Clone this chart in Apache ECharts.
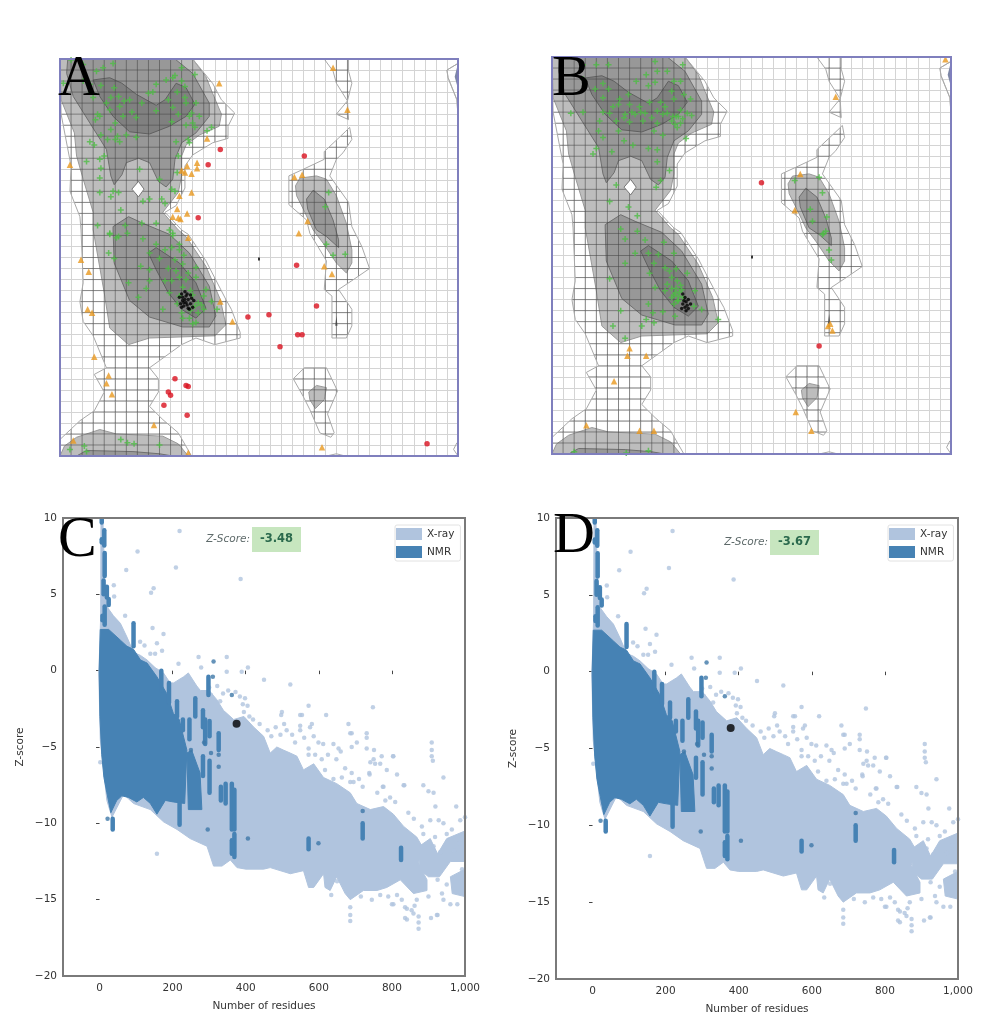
<!DOCTYPE html>
<html><head><meta charset="utf-8">
<style>html,body{margin:0;padding:0;background:#fff}#c{width:982px;height:1016px}</style>
<script src="https://cdn.jsdelivr.net/npm/echarts@6/dist/echarts.min.js"></script>
</head><body><div id="c"></div>
<script>
// ---------- Ramachandran contours (phi, psi in degrees) ----------
const allowedMain=[[-60,180],[-48,164],[-42,149],[-34,130],[-36,119],[-54,111],[-66,102],[-70,92],[-70,74],[-73,59],[-87,41],[-73,25],[-66,19],[-48,-8],[-35,-38],[-30,-61],[-40,-71],[-99,-73],[-118,-79],[-135,-64],[-140,-32],[-150,25],[-150,41],[-159,71],[-165,92],[-167,113],[-179,143],[-180,180]];
const allowedRight=[[33,65],[37,72],[52,74],[61,71],[70,56],[79,31],[84,7],[84,-5],[79,-14],[70,-5],[58,13],[49,25],[40,44],[34,56]];
const allowedSmall=[[45,-122],[52,-116],[61,-118],[59,-129],[51,-137],[46,-129]];
const allowedBottom=[[-180,-180],[-176,-171],[-165,-163],[-144,-156],[-129,-160],[-87,-162],[-73,-169],[-64,-180]];
const favouredUpper=[[-173,180],[-174,167],[-168,146],[-153,122],[-138,98],[-134,74],[-131,66],[-124,75],[-120,86],[-109,90],[-99,86],[-91,69],[-84,64],[-78,71],[-76,89],[-70,104],[-57,113],[-45,128],[-45,140],[-60,167],[-76,180]];
const favouredLower=[[-118,37],[-132,28],[-132,25],[-131,-5],[-117,-39],[-99,-54],[-69,-63],[-45,-63],[-39,-53],[-45,-26],[-63,4],[-81,21],[-105,31]];
const favouredRight=[[43,53],[49,61],[59,53],[67,34],[72,16],[72,9],[61,19],[52,25],[44,44]];
const favouredBottom=[[-165,-180],[-156,-175],[-114,-176],[-90,-178],[-78,-180]];
const coreUpper=[[-150,161],[-135,163],[-124,158],[-111,148],[-93,138],[-85,143],[-75,158],[-66,154],[-58,139],[-66,128],[-81,119],[-99,112],[-117,114],[-132,128],[-144,146]];
const coreLower=[[-100,4],[-93,9],[-72,-5],[-57,-23],[-48,-46],[-57,-55],[-70,-47],[-82,-32],[-93,-11]];
const diamondHole=[[-109,69],[-104,62],[-109,55],[-115,62]];
const outerMain=[[-60,180],[-51,169],[-42,158],[-34,143],[-22,131],[-28,119],[-28,108],[-42,104],[-60,93],[-67,83],[-67,63],[-75,47],[-85,41],[-70,25],[-64,21],[-48,-3],[-30,-38],[-25,-47],[-17,-68],[-17,-73],[-40,-79],[-57,-73],[-70,-79],[-99,-100],[-91,-110],[-91,-122],[-99,-135],[-87,-147],[-73,-159],[-61,-180],[-180,-180],[-180,-165],[-162,-148],[-149,-139],[-140,-122],[-149,-106],[-138,-100],[-150,-71],[-159,-58],[-162,-40],[-159,-23],[-161,25],[-162,37],[-171,60],[-170,83],[-179,130],[-180,180]];
const outerRightMid=[[82,118],[78,114],[59,96],[59,89],[40,80],[27,74],[27,48],[43,34],[46,22],[61,-3],[59,-29],[66,-35],[66,-73],[79,-73],[84,-62],[84,-47],[72,-29],[84,-21],[100,-10],[93,10],[84,28],[81,50],[64,74],[70,89],[76,95],[84,107]];
const outerStripA=[[59,180],[67,169],[70,158],[80,142],[84,158],[81,169],[81,180]];
const outerStripB=[[80,142],[70,130],[81,125]];
const outerSmall=[[31,-110],[41,-100],[61,-100],[71,-121],[62,-142],[68,-159],[65,-163],[55,-159],[46,-138],[40,-126]];
const outerCorner=[[180,176],[170,170],[171,163],[179,143],[180,128]];
const outerCornerLow=[[179,-168],[176,-174],[180,-180]];
const outerEdgeLow=[[61,-180],[70,-178],[78,-180]];
const cornerLens=[[180,176],[177,164],[180,153]];
const sliver=[[69,-62],[70,-53],[71,-62]];

// ---------- Ramachandran points, panel A ----------
const favouredA=[[-170,179],[-159,175],[-132,176],[-177,158],[-141,172],[-147,169],[-159,160],[-153,157],[-143,156],[-150,145],[-131,154],[-134,145],[-127,146],[-117,143],[-122,142],[-126,137],[-135,134],[-146,130],[-144,128],[-123,128],[-111,127],[-106,140],[-100,149],[-93,157],[-84,161],[-78,163],[-70,172],[-58,166],[-67,155],[-67,145],[-82,143],[-93,133],[-78,136],[-73,130],[-66,140],[-57,140],[-61,131],[-54,128],[-79,123],[-66,120],[-58,118],[-43,118],[-47,115],[-64,107],[-63,104],[-75,105],[-73,92],[-143,111],[-134,116],[-120,111],[-111,109],[-130,107],[-137,107],[-153,105],[-149,102],[-126,105],[-144,89],[-156,87],[-140,92],[-143,81],[-108,80],[-74,77],[-144,72],[-90,71],[-144,59],[-132,60],[-127,59],[-134,55],[-79,62],[-76,60],[-105,51],[-99,53],[-88,53],[-85,49],[-125,43],[-146,29],[-93,31],[-121,29],[-106,31],[-81,25],[-78,22],[-135,21],[-127,19],[63,59],[60,46],[-135,22],[-129,18],[-119,22],[-105,17],[-93,12],[-78,20],[-136,4],[-131,-1],[-99,4],[-85,7],[-79,9],[-72,7],[-76,-2],[-69,-6],[-64,-14],[-57,-9],[-107,-8],[-99,-11],[-118,-23],[-99,-21],[-85,-21],[-79,-21],[-72,-18],[-57,-18],[-102,-28],[-81,-32],[-69,-27],[-48,-29],[-109,-36],[-87,-47],[-50,-35],[-43,-40],[-38,-47],[-70,-50],[-63,-55],[-57,-59],[-50,-47],[-55,-41],[61,12],[67,2],[78,3],[-125,-165],[-119,-168],[-113,-169],[-90,-170],[-171,-174],[-158,-171],[-156,-176],[-60,-34],[-58,-44],[-72,-35],[-74,-42],[-55,-50],[-62,-48],[-52,-43],[-69,-55],[-60,-60],[-152,150],[-138,140],[-130,122],[-96,150],[-74,150],[-70,160],[-63,128],[-60,122],[-115,132],[-148,125],[-128,110],[-76,165],[-72,12],[-68,2],[-75,-12],[-66,-20],[-62,-30],[-82,-10],[-90,-1]];
const generousA=[[-36,158],[67,172],[80,134],[-171,84],[-47,108],[-56,86],[-65,83],[-56,81],[-70,79],[-67,77],[-61,76],[-72,56],[-61,59],[-74,44],[-65,40],[-78,37],[-73,36],[-71,35],[-64,18],[32,73],[39,75],[44,33],[36,22],[-161,-2],[-154,-13],[-155,-47],[-151,-50],[59,-8],[66,-15],[-35,-40],[-24,-58],[-149,-90],[-136,-107],[-138,-114],[-133,-124],[-95,-152],[-168,-166],[-64,-177],[57,-172]];
const outlierA=[[-35,98],[-46,84],[-55,36],[41,92],[34,-7],[52,-44],[-10,-54],[9,-52],[35,-70],[39,-70],[19,-81],[-76,-110],[-66,-116],[-64,-117],[-82,-122],[-80,-125],[-86,-134],[-65,-143],[152,-169]];
const glycineA=[[-72,-36],[-70,-33],[-69,-39],[-71,-42],[-68,-44],[-66,-35],[-66,-41],[-64,-46],[-67,-31],[-64,-38],[-62,-42],[-62,-34],[-60,-45],[-59,-39],[-69,-36],[-67,-38],[-65,-43],[-70,-45],[-63,-47],[-68,-41],[-65,-33],[-61,-37]];

// ---------- Ramachandran points, panel B ----------
const favouredB=[[-152,173],[-140,173],[-129,173],[-87,176],[-62,173],[-95,164],[-85,167],[-76,167],[-152,160],[-104,158],[-134,156],[-93,154],[-87,157],[-70,158],[-64,158],[-141,151],[-129,151],[-111,146],[-72,149],[-61,146],[-134,143],[-119,142],[-101,135],[-120,137],[-110,137],[-92,139],[-82,139],[-70,142],[-55,142],[-163,129],[-152,130],[-134,130],[-128,129],[-114,128],[-105,128],[-96,129],[-85,131],[-76,129],[-64,132],[-58,129],[-54,127],[-137,122],[-122,122],[-110,121],[-98,122],[-85,120],[-69,119],[-64,120],[-67,116],[-138,113],[-120,113],[-88,113],[-134,107],[-80,109],[-115,104],[-59,106],[-140,97],[-107,100],[-93,97],[-85,96],[-143,92],[-126,94],[-85,85],[-74,77],[-82,68],[-86,62],[-122,64],[-128,49],[-111,44],[-103,36],[-118,24],[-103,22],[39,68],[61,71],[64,57],[68,35],[53,42],[55,31],[64,19],[67,22],[70,5],[72,-4],[65,20],[-114,15],[-96,14],[-79,12],[-114,-7],[-105,2],[-93,2],[-84,1],[-78,-11],[-88,-7],[-70,2],[-72,-20],[-92,-16],[-128,-21],[-87,-29],[-76,-26],[-67,-23],[-58,-16],[-51,-32],[-93,-44],[-118,-50],[-89,-52],[-80,-51],[-69,-55],[-45,-49],[-30,-58],[-95,-58],[-88,-61],[-99,-64],[-125,-64],[-114,-75],[-69,-34],[-66,-37],[-72,-38],[-67,-41],[-63,-31],[-70,-44],[-52,-46],[-160,-178],[-113,-179],[-93,-177],[-68,-30],[-65,-33],[-70,-36],[-66,-41],[-62,-38],[-72,-30],[-64,-27],[-78,-32],[-74,-14],[-68,-12],[-71,126],[-66,126],[-62,124],[-72,122],[-68,126],[-80,128],[-78,135],[-90,125],[-100,130],[-108,130],[-115,125],[-125,135]];
const generousB=[[175,178],[76,144],[44,74],[39,41],[71,-62],[69,-64],[73,-68],[-110,-84],[-112,-91],[-95,-91],[-124,-114],[40,-142],[54,-159],[-149,-154],[-101,-159],[-88,-159]];
const outlierB=[[9,66],[61,-82]];
const glycineB=[[-62,-35],[-60,-38],[-59,-42],[-62,-44],[-58,-45],[-60,-47],[-57,-40],[-59,-50],[-57,-48],[-61,-41],[-63,-48],[-55,-44]];

// ---------- Z-score reference clouds (residues, z) ----------
const xrayMain=[[3,3.5],[4,10],[9,10],[14,6],[20,4.2],[38,3.6],[57,3.1],[75,2.2],[93,1.2],[112,1],[130,.7],[152,.2],[175,-.15],[193,-.8],[203,-.8],[230,-.4],[243,-.15],[266,-1],[276,-1.3],[300,-1.3],[321,-1.9],[339,-2.6],[367,-3.2],[395,-3],[422,-3.7],[449,-4.3],[467,-5.4],[485,-5],[503,-5.2],[522,-5.4],[540,-5.6],[558,-6.5],[586,-6.1],[613,-7],[649,-7.4],[686,-8],[704,-8.7],[741,-9.1],[777,-8.9],[804,-9.4],[832,-10.2],[868,-10.9],[885,-11.6],[872,-12.6],[896,-13.7],[896,-14.4],[859,-14.6],[823,-13.7],[786,-14.2],[759,-14.4],[722,-14.4],[686,-15],[672,-14.6],[649,-13.5],[631,-14.4],[617,-14.2],[613,-13.3],[586,-14.2],[572,-14.2],[558,-13.1],[522,-13.3],[467,-12.9],[449,-13],[400,-13],[376,-12.9],[358,-12.4],[335,-12.8],[312,-12.8],[294,-11.5],[248,-11],[212,-10.4],[175,-9.9],[139,-9.1],[93,-8.7],[66,-8.1],[34,-9.6],[20,-8.5],[2,-4.5],[-2,-.2],[1,2]];
const xrayRightA=[[875,-11.5],[905,-11],[925,-12],[950,-11],[1000,-10.5],[1000,-12.5],[960,-12.5],[930,-13.5],[900,-13.5],[875,-13]];
const xrayRightB=[[960,-13.5],[1000,-13],[1000,-14.8],[965,-14.6]];
const nmrMain=[[2,2.7],[25,2.7],[57,2],[75,1.6],[93,1.4],[112,.7],[130,.5],[157,-.4],[184,-1.5],[202,-2.8],[218,-3.2],[239,-5.2],[233,-8.7],[202,-8.6],[180,-8.5],[157,-9.4],[139,-8.7],[120,-8.3],[102,-8.6],[79,-8.3],[61,-8.2],[47,-8.5],[31,-9.3],[20,-8],[12,-7],[6,-5.5],[1,-3],[-1,0]];
const nmrBlock=[[239,-5.4],[252,-5.2],[275,-6.7],[280,-9.1],[243,-9.1]];
// x, top z, bottom z of each vertical NMR run
const nmrColumns=[[6,9.9,9.7],[13,9.2,8.2],[6,8.6,8.4],[14,7.7,6.2],[11,5.9,5],[20,5.5,4.8],[25,4.7,4.3],[14,4.2,3],[8,3.6,3.3],[93,3.1,1.6],[169,0,-1.3],[190,-.8,-2.1],[212,-2,-3],[262,-1.8,-3],[298,-.4,-1.6],[283,-2.6,-3.7],[289,-3.2,-4.8],[301,-3.3,-4.3],[246,-3.2,-4.5],[228,-3.2,-3.9],[326,-4.1,-5.2],[283,-5.6,-6.9],[301,-5.9,-8],[332,-7.6,-8.5],[345,-7.4,-8.7],[362,-7.4,-10.4],[369,-7.8,-10.4],[369,-10.7,-12.2],[362,-11.1,-12],[219,-8.7,-10.1],[36,-9.7,-10.4],[572,-11,-11.7],[720,-10,-11],[825,-11.6,-12.4]];
const nmrDots=[[22,-9.7],[312,.6],[310,-.4],[362,-1.6],[296,-10.4],[406,-11],[599,-11.3],[720,-9.2],[305,-5.4],[326,-5.5],[326,-6.3],[250,-5.2],[286,-4.7]];
const xrayDots=[[219,9.15],[104,7.8],[73,6.6],[209,6.75],[386,6],[39,5.6],[40,4.85],[148,5.4],[141,5.1],[70,3.6],[145,2.8],[175,2.4],[111,1.9],[123,1.65],[157,1.8],[152,1.1],[171,1.3],[139,1.1],[271,.9],[348,.9],[216,.45],[278,.2],[348,-.07],[389,-.07],[406,.2],[450,-.6],[522,-.9],[572,-2.3],[620,-2.9],[748,-2.4],[497,-2.9],[499,-2.7],[681,-3.5],[549,-2.9],[554,-2.9],[586,-4.3],[549,-3.6],[549,-3.9],[581,-3.5],[576,-3.7],[731,-4.1],[731,-4.4],[690,-4.1],[909,-4.7],[909,-5.2],[909,-5.6],[912,-5.9],[941,-7],[772,-5.6],[804,-5.6],[750,-5.8],[738,-6.7],[786,-6.5],[814,-6.8],[834,-7.5],[775,-7.6],[886,-7.5],[900,-7.9],[914,-8],[809,-8.6],[919,-8.9],[976,-8.9],[690,-6.7],[686,-7.3],[157,-12],[2,-6],[745,-15],[804,-15.3],[686,-15.5],[686,-16],[686,-16.4],[841,-16.3],[859,-15.9],[873,-16.9],[873,-16.5],[854,-15.7],[836,-15.5],[814,-14.7],[827,-15],[907,-16.2],[925,-16],[960,-15.3],[979,-15.3],[599,-4.7],[572,-5.1],[572,-5.5],[590,-5.5],[608,-5.8],[617,-6.5],[640,-4.8],[654,-5.1],[660,-5.3],[686,-4.1],[704,-4.7],[690,-5],[731,-5.1],[751,-5.2],[741,-6],[754,-6.1],[768,-6.1],[803,-5.6],[695,-7.3],[739,-6.8],[832,-7.5],[777,-7.6],[782,-8.5],[640,-7.1],[663,-7],[800,-15.3],[836,-16.2],[841,-15.6],[868,-15],[873,-16.1],[923,-16],[937,-14.6],[941,-15],[905,-9.8],[928,-9.8],[941,-10],[987,-9.8],[882,-10.2],[886,-10.7],[918,-10.9],[950,-10.7],[964,-10.4],[914,-11.5],[932,-11.9],[300,-1.1],[322,-1],[338,-1.5],[330,-2],[305,-1.6],[352,-1.3],[372,-1.4],[384,-1.7],[398,-1.8],[405,-2.3],[395,-2.7],[410,-3],[392,-2.2],[420,-3.2],[438,-3.5],[460,-3.9],[470,-4.3],[482,-3.7],[505,-3.5],[512,-3.9],[495,-4.2],[527,-4.2],[535,-4.7],[560,-4.4],[612,-4.8],[625,-5.5],[648,-5.8],[672,-6.4],[710,-7.1],[720,-7.6],[760,-8],[795,-8.3],[845,-9.3],[860,-9.7],[970,-11.8],[985,-11.3],[1000,-9.6],[992,-13],[950,-14],[925,-13.7],[900,-14.8],[862,-15.4],[790,-14.8],[768,-14.7],[715,-14.8],[650,-13.8],[634,-14.7]];

// ---------- panel values and tick labels ----------
const zScoreC=-3.48, zScoreD=-3.67;
const proteinC=[[375,-3.48]], proteinD=[[378,-3.67]];
const zTicks=[-20,-15,-10,-5,0,5,10];
const residueTicks=[0,200,400,600,800,1000];
const panelLabels=['A','B','C','D'];
const legendNames=['X-ray','NMR'];

// ---------- helpers ----------
const allFills=[
 {polys:[outerCorner.concat([[180,176]])],fill:'rgba(0,0,0,0)',stroke:'#b5b5b5',w:1,z:3},
 {polys:[allowedMain,allowedRight,allowedSmall,allowedBottom],fill:'#bdbdbd',stroke:'#9a9a9a',w:1,z:2},
 {polys:[favouredUpper,favouredLower,favouredRight,favouredBottom],fill:'#989898',stroke:'#6f6f6f',w:1,z:2.1},
 {polys:[coreUpper,coreLower],fill:'#808080',stroke:'#606060',w:1,z:2.2},
 {polys:[cornerLens],fill:'#7d86a6',stroke:'#7d86a6',w:0,z:2.2},
 {polys:[sliver],fill:'#555',stroke:'#555',w:0,z:2.3},
 {polys:[diamondHole],fill:'#fff',stroke:'#777',w:1,z:3.3},
];
const outerClosed=[outerMain,outerRightMid,outerStripA,outerStripB,outerSmall];
const outerOpen=[outerCornerLow,outerEdgeLow,outerCorner];

function polySeries(g,name,polys,fill,stroke,w,z,closed){
 return {type:'custom',name,coordinateSystem:'cartesian2d',xAxisIndex:g,yAxisIndex:g,z,silent:true,animation:false,clip:true,
  itemStyle:{color:fill},
  data:polys.map((p,i)=>[p[0][0],p[0][1],i]),
  renderItem(params,api){
   const pts=polys[params.dataIndex].map(p=>api.coord(p));
   return {type:closed===false?'polyline':'polygon',shape:{points:pts},style:{fill:closed===false?null:fill,stroke:stroke,lineWidth:w}};
  }};
}
function gridLineSeries(g,polys){
 return {type:'custom',coordinateSystem:'cartesian2d',xAxisIndex:g,yAxisIndex:g,z:3,silent:true,animation:false,clip:true,
  data:polys.map((p,i)=>[p[0][0],p[0][1],i]),
  renderItem(params,api){
   const pts=polys[params.dataIndex].map(p=>api.coord(p));
   const ch=[];
   for(let d=-170;d<180;d+=10){
    const a=api.coord([d,-180]),b=api.coord([d,180]);
    ch.push({type:'line',shape:{x1:a[0],y1:a[1],x2:b[0],y2:b[1]},style:{stroke:'rgba(70,70,70,.55)',lineWidth:1}});
    const c=api.coord([-180,d]),e=api.coord([180,d]);
    ch.push({type:'line',shape:{x1:c[0],y1:c[1],x2:e[0],y2:e[1]},style:{stroke:'rgba(70,70,70,.55)',lineWidth:1}});
   }
   return {type:'group',children:ch,clipPath:{type:'polygon',shape:{points:pts}}};
  }};
}
function frameSeries(g,corners,color,w){
 return {type:'custom',coordinateSystem:'cartesian2d',xAxisIndex:g,yAxisIndex:g,z:6,silent:true,animation:false,clip:false,
  data:[corners],
  renderItem(params,api){
   const a=api.coord([api.value(0),api.value(1)]),b=api.coord([api.value(2),api.value(3)]);
   return {type:'rect',shape:{x:a[0],y:b[1],width:b[0]-a[0],height:a[1]-b[1]},style:{fill:null,stroke:color,lineWidth:w}};
  }};
}
function pts(g,data,symbol,size,color,z){
 return {type:'scatter',xAxisIndex:g,yAxisIndex:g,data,symbol,symbolSize:size,z,silent:true,animation:false,clip:true,itemStyle:{color}};
}
const plus='path://M3 0h2v3h3v2h-3v3h-2v-3h-3v-2h3z';
const triangle='triangle', circle='circle';

function ramaPanel(g,fav,gen,out,gly){
 const s=[];
 allFills.forEach(f=>s.push(polySeries(g,'',f.polys,f.fill,f.stroke,f.w,f.z)));
 s.push(gridLineSeries(g,outerClosed));
 s.push(polySeries(g,'',outerClosed,'rgba(0,0,0,0)','#a9a9a9',1,3.5));
 s.push(polySeries(g,'',outerOpen,'none','#a9a9a9',1,3.5,false));
 s.push(pts(g,fav,plus,6,'#4dbd45',4));
 s.push(pts(g,gly,circle,3.5,'#000',4.5));
 s.push(pts(g,gen,triangle,6.5,'#e8981f',4.6));
 s.push(pts(g,out,circle,5.5,'#d9121f',4.7));
 s.push(frameSeries(g,[-180,-180,180,180],'#7f7fbd',2));
 return s;
}
function zPanel(g,prot){
 const s=[];
 s.push(polySeries(g,'X-ray',[xrayMain,xrayRightA,xrayRightB],'#b0c4de','#b0c4de',1,2));
 s.push(pts(g,xrayDots,circle,4.5,'#b0c4de',2.1));
 s.push(polySeries(g,'NMR',[nmrMain,nmrBlock],'#4682b4','#4682b4',1,3));
 s.push({type:'custom',name:'NMR',coordinateSystem:'cartesian2d',xAxisIndex:g,yAxisIndex:g,z:3,silent:true,animation:false,clip:true,
  itemStyle:{color:'#4682b4'},data:nmrColumns,encode:{x:0,y:[1,2]},
  renderItem(params,api){
   const a=api.coord([api.value(0),api.value(1)]),b=api.coord([api.value(0),api.value(2)]);
   return {type:'line',shape:{x1:a[0],y1:a[1],x2:b[0],y2:b[1]},style:{stroke:'#4682b4',lineWidth:4.5,lineCap:'round'}};
  }});
 s.push(pts(g,nmrDots,circle,4.5,'#3f78a8',3.2));
 s.push(pts(g,prot,circle,8,'#000',5));
 s.push(frameSeries(g,[-100,-20,1000,10],'#7a7a7a',2));
 return s;
}
const grids=[{left:60,top:59,width:398,height:397},{left:552,top:57,width:399,height:397},{left:63,top:518,width:402,height:458},{left:556,top:518,width:402,height:461}];
const fontAxis='"DejaVu Sans",sans-serif';
function ramaX(g){return {type:'value',gridIndex:g,min:-180,max:180,interval:180,axisLine:{show:false},axisLabel:{show:false},
 axisTick:{show:true,length:3,inside:false,lineStyle:{color:'#333',width:2}},splitLine:{show:true,lineStyle:{color:'#d4d4d4',width:1}},
 minorTick:{show:false,splitNumber:18},minorSplitLine:{show:true,lineStyle:{color:'#d4d4d4',width:1}}};}
function ramaY(g){const a=ramaX(g);a.position='left';a.axisTick={show:false};return a;}
const axisText={color:'#333',fontFamily:fontAxis,fontSize:10.5};
function zX(g){return {type:'value',gridIndex:g,min:-100,max:1000,name:'Number of residues',nameLocation:'middle',nameGap:25,nameTextStyle:axisText,
 axisLine:{show:false},splitLine:{show:false},axisTick:{show:true,length:3.5,lineStyle:{color:'#444'},customValues:residueTicks},
 axisLabel:Object.assign({margin:7,customValues:residueTicks,showMinLabel:true,showMaxLabel:true},axisText)};}
function zY(g){return {type:'value',gridIndex:g,min:-20,max:10,interval:5,name:'Z-score',nameLocation:'middle',nameGap:37,nameTextStyle:axisText,
 axisLine:{show:false},splitLine:{show:false},axisTick:{show:true,length:3.5,lineStyle:{color:'#444'}},
 axisLabel:Object.assign({margin:6,formatter:v=>String(zTicks.includes(v)?v:'').replace('-','\u2212')},axisText)};}

function legend(l){return {left:l,top:525,orient:'vertical',itemWidth:26,itemHeight:12,itemGap:6,padding:[3,6,3,1],
 backgroundColor:'#fff',borderColor:'#e2e2e2',borderWidth:1,borderRadius:2,selectedMode:false,z:7,
 textStyle:{color:'#333',fontFamily:fontAxis,fontSize:10.5},data:legendNames.map(n=>({name:n,icon:'rect'}))};}
function scoreBox(x,y,val){return [
 {type:'rect',z:7,shape:{x,y,width:49,height:25},style:{fill:'#c7e6bf'}},
 {type:'text',z:8,style:{x:x+24.5,y:y+12.5,text:val.toFixed(2),align:'center',verticalAlign:'middle',fill:'#2b6a4d',font:'bold 11.5px '+fontAxis}},
 {type:'text',z:8,style:{x:x-2,y:y+12.5,text:'Z-Score:',align:'right',verticalAlign:'middle',fill:'#5e6a6a',font:'italic 10.5px '+fontAxis}}
];}
const labelPos=[[58,51],[552,51],[58,512],[553,508]];
const option={animation:false,backgroundColor:'#fff',
 grid:grids.map(g=>Object.assign({containLabel:false},g)),
 xAxis:[ramaX(0),ramaX(1),zX(2),zX(3)],
 yAxis:[ramaY(0),ramaY(1),zY(2),zY(3)],
 legend:[legend(395),legend(888)],
 graphic:[].concat(
  panelLabels.map((t,i)=>({type:'text',z:9,style:{x:labelPos[i][0],y:labelPos[i][1],text:t,verticalAlign:'alphabetic',fill:'#000',font:'58px "Liberation Serif",serif'}})),
  scoreBox(252,527,zScoreC),scoreBox(770,530,zScoreD)),
 series:[].concat(ramaPanel(0,favouredA,generousA,outlierA,glycineA),ramaPanel(1,favouredB,generousB,outlierB,glycineB),zPanel(2,proteinC),zPanel(3,proteinD))
};
const chart=echarts.init(document.getElementById('c'),null,{renderer:'canvas',width:982,height:1016});
chart.setOption(option);
</script></body></html>
